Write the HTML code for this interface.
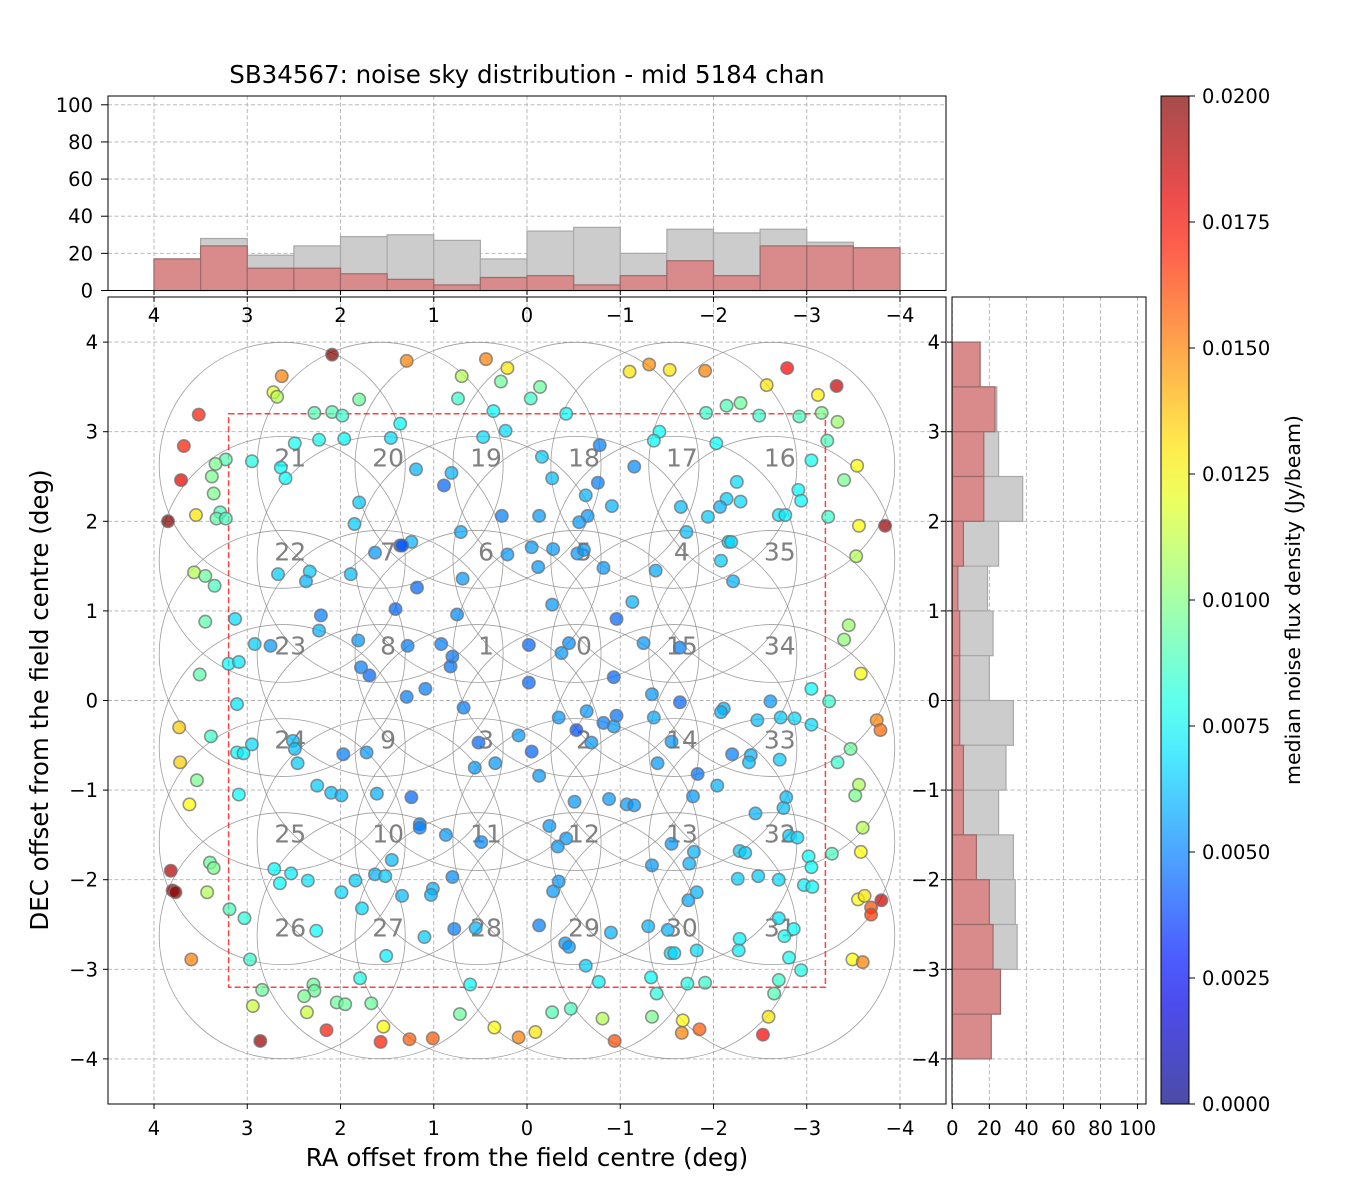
<!DOCTYPE html>
<html><head><meta charset="utf-8"><style>
html,body{margin:0;padding:0;background:#fff;}
svg{display:block;font-family:"DejaVu Sans","Liberation Sans",sans-serif;}
</style></head><body>
<svg id="fig" width="1350" height="1200" viewBox="0 0 1350 1200" xmlns="http://www.w3.org/2000/svg">
<defs>
<clipPath id="mainclip"><rect x="108" y="297" width="838" height="807"/></clipPath>
<linearGradient id="jetgrad" x1="0" y1="1" x2="0" y2="0"></linearGradient>
</defs>
<text x="527" y="83" font-size="24.5" text-anchor="middle">SB34567: noise sky distribution - mid 5184 chan</text>
<text x="527" y="1166" font-size="24.5" text-anchor="middle">RA offset from the field centre (deg)</text>
<text x="0" y="0" font-size="24.5" text-anchor="middle" transform="translate(48,700) rotate(-90)">DEC offset from the field centre (deg)</text>
<text x="0" y="0" font-size="20.5" text-anchor="middle" transform="translate(1300,600) rotate(-90)">median noise flux density (Jy/beam)</text>
<g id="layer"></g>
</svg>
<script>
// ---- data ----
const pointRA = [2.09,1.29,2.63,2.72,2.68,1.80,0.44,0.21,0.70,0.28,0.74,3.52,2.28,2.09,1.98,1.36,0.36,0.23,0.47,1.46,1.96,2.23,2.49,3.68,2.95,3.23,3.34,3.38,3.71,2.64,2.59,3.36,1.19,0.81,0.89,1.80,0.27,3.85,3.55,3.29,3.33,3.23,1.85,0.71,0.21,1.24,1.36,1.34,1.63,3.57,3.45,3.35,2.67,2.33,2.37,1.89,0.69,1.18,1.41,0.75,2.21,2.23,3.45,3.13,2.92,2.75,1.81,1.28,0.92,0.80,0.82,1.78,1.69,3.20,3.09,3.51,1.09,1.29,
-0.14,-0.04,-0.42,-1.10,-1.31,-1.53,-1.91,-2.79,-2.57,-3.32,-3.12,-2.14,-2.29,-1.92,-2.49,-2.92,-3.16,-3.33,-3.22,-1.42,-1.36,-2.03,-0.78,-0.16,-1.15,-3.05,-3.54,-3.40,-0.27,-0.76,-0.63,-2.25,-2.91,-2.94,-2.14,-2.29,-2.07,-0.91,-1.65,-0.65,-0.13,-0.56,-1.94,-2.70,-2.77,-3.23,-3.56,-3.84,-1.71,-2.16,-2.19,-0.05,-0.28,-0.54,-0.61,-2.08,-3.53,-0.12,-0.82,-1.38,-2.21,-0.27,-1.13,-0.96,-3.45,-3.40,-0.02,-0.45,-0.37,-1.25,-1.64,-3.58,-0.93,-0.02,-3.05,-1.34,
3.11,3.73,3.39,3.72,3.54,3.62,3.11,3.04,2.95,2.51,2.49,2.46,1.97,1.72,0.68,0.52,0.09,0.56,0.34,3.09,2.25,2.10,1.99,1.61,1.24,1.15,1.15,0.87,0.49,3.82,3.80,3.77,3.40,3.36,3.43,3.19,3.03,2.71,2.53,2.65,2.35,1.99,1.84,1.63,1.52,1.45,1.34,1.01,1.03,0.80,1.77,2.26,1.10,0.78,0.55,1.51,3.60,2.97,1.79,0.61,2.84,2.29,2.28,2.39,2.04,1.95,1.67,2.94,2.36,0.72,1.54,0.35,2.15,1.57,1.26,1.01,2.86,0.09,
-3.24,-2.61,-1.64,-2.11,-2.08,-0.34,-0.64,-0.82,-0.96,-0.93,-0.53,-0.69,-1.36,-2.47,-2.72,-2.87,-3.05,-3.75,-3.79,-1.55,-0.05,-2.20,-2.40,-2.38,-2.71,-3.47,-3.33,-1.40,-0.13,-1.83,-2.04,-1.78,-2.78,-2.75,-3.56,-3.52,-0.51,-0.88,-1.07,-1.15,-2.45,-3.60,-0.24,-0.42,-0.33,-1.55,-1.79,-1.74,-1.34,-2.28,-2.34,-2.81,-2.90,-3.02,-3.05,-3.27,-3.58,-2.26,-2.48,-2.70,-2.97,-3.06,-0.34,-0.28,-1.82,-1.73,-3.55,-3.62,-3.80,-3.69,-3.69,-0.13,-0.90,-0.41,-0.45,-1.30,-1.51,-2.70,-2.86,-2.76,-2.28,-2.27,-1.54,-1.58,-1.82,-2.81,-2.94,-0.63,-0.77,-1.33,-1.39,-1.72,-1.91,-2.70,-2.65,-3.49,-3.60,-0.27,-0.47,-0.81,-1.34,-1.67,-1.66,-1.85,-2.59,-2.53,-0.94,-0.09];
const pointDEC = [3.86,3.79,3.62,3.44,3.39,3.36,3.81,3.71,3.62,3.56,3.37,3.19,3.21,3.22,3.18,3.09,3.23,3.01,2.94,2.93,2.92,2.91,2.87,2.84,2.67,2.69,2.64,2.50,2.46,2.60,2.48,2.31,2.58,2.54,2.40,2.21,2.06,2.00,2.07,2.10,2.03,2.03,1.97,1.88,1.63,1.77,1.73,1.73,1.65,1.43,1.39,1.28,1.41,1.44,1.33,1.41,1.36,1.26,1.02,0.96,0.95,0.78,0.88,0.91,0.63,0.61,0.67,0.61,0.63,0.49,0.38,0.37,0.28,0.41,0.43,0.29,0.13,0.04,
3.50,3.37,3.20,3.67,3.75,3.69,3.68,3.71,3.52,3.51,3.41,3.29,3.32,3.21,3.18,3.17,3.21,3.11,2.90,3.00,2.90,2.87,2.85,2.72,2.61,2.68,2.62,2.46,2.48,2.43,2.29,2.44,2.35,2.23,2.25,2.22,2.16,2.17,2.16,2.06,2.06,1.99,2.05,2.07,2.07,2.05,1.95,1.95,1.88,1.77,1.77,1.71,1.69,1.64,1.68,1.56,1.61,1.49,1.48,1.45,1.33,1.07,1.10,0.91,0.84,0.68,0.62,0.64,0.53,0.64,0.59,0.30,0.26,0.20,0.13,0.07,
-0.04,-0.30,-0.40,-0.69,-0.89,-1.16,-0.58,-0.59,-0.49,-0.45,-0.54,-0.70,-0.60,-0.58,-0.08,-0.47,-0.39,-0.75,-0.70,-1.05,-0.95,-1.03,-1.06,-1.04,-1.08,-1.38,-1.42,-1.50,-1.58,-1.90,-2.12,-2.14,-1.81,-1.87,-2.14,-2.33,-2.43,-1.88,-1.93,-2.04,-2.01,-2.14,-2.01,-1.94,-1.96,-1.78,-2.18,-2.10,-2.17,-1.97,-2.32,-2.57,-2.64,-2.55,-2.54,-2.85,-2.89,-2.89,-3.10,-3.17,-3.23,-3.17,-3.24,-3.30,-3.37,-3.39,-3.38,-3.41,-3.48,-3.50,-3.64,-3.65,-3.68,-3.81,-3.78,-3.77,-3.80,-3.76,
-0.01,-0.01,-0.02,-0.09,-0.13,-0.19,-0.12,-0.25,-0.17,-0.29,-0.33,-0.47,-0.19,-0.22,-0.19,-0.20,-0.27,-0.22,-0.33,-0.46,-0.57,-0.60,-0.61,-0.69,-0.66,-0.54,-0.69,-0.70,-0.84,-0.82,-0.95,-1.07,-1.08,-1.20,-0.94,-1.06,-1.13,-1.10,-1.16,-1.17,-1.26,-1.42,-1.40,-1.54,-1.63,-1.60,-1.69,-1.82,-1.84,-1.68,-1.70,-1.51,-1.53,-1.74,-1.86,-1.71,-1.69,-1.99,-1.96,-2.00,-2.06,-2.08,-2.02,-2.13,-2.14,-2.23,-2.22,-2.18,-2.23,-2.31,-2.39,-2.51,-2.59,-2.71,-2.75,-2.52,-2.56,-2.43,-2.55,-2.63,-2.66,-2.79,-2.82,-2.82,-2.79,-2.87,-3.01,-2.96,-3.14,-3.09,-3.27,-3.16,-3.15,-3.12,-3.27,-2.89,-2.92,-3.48,-3.44,-3.55,-3.53,-3.57,-3.71,-3.67,-3.53,-3.73,-3.80,-3.70];
const pointNoise = [.02,.015,.015,.012,.011,.0095,.015,.013,.011,.0095,.0085,.017,.009,.009,.0085,.0075,.0075,.0068,.0068,.0068,.0075,.0078,.0078,.017,.008,.009,.0098,.0098,.018,.0075,.0075,.0098,.006,.006,.0045,.0065,.005,.02,.013,.0088,.0092,.0088,.0065,.0058,.0055,.006,.0045,.004,.0055,.011,.0095,.0088,.0065,.0065,.006,.0062,.0055,.0045,.0045,.0052,.005,.006,.0092,.0068,.0065,.0055,.0055,.005,.005,.0048,.0048,.005,.0045,.0075,.007,.0092,.005,.005,
.0095,.0085,.0075,.013,.0148,.013,.015,.0175,.013,.0185,.0128,.009,.0095,.0085,.0085,.0088,.0098,.0105,.0088,.0075,.0075,.0075,.005,.0065,.0052,.0078,.0125,.0098,.0062,.005,.006,.0068,.0075,.0075,.0065,.0068,.006,.006,.0062,.0055,.0055,.0055,.0065,.007,.0072,.0085,.0125,.0195,.0062,.0065,.0068,.0055,.0055,.0055,.0055,.0065,.011,.0055,.0055,.0058,.006,.0055,.006,.0045,.0105,.0102,.0045,.0052,.0055,.0055,.005,.0125,.0045,.0045,.0075,.0055,
.007,.0135,.0085,.0135,.0098,.0125,.0075,.0072,.0068,.0062,.0062,.0065,.005,.0055,.005,.0045,.0055,.0055,.0055,.0075,.0065,.0062,.006,.006,.0045,.0052,.005,.0055,.0052,.019,.019,.02,.0095,.0098,.011,.0088,.0082,.0075,.0072,.0075,.007,.0068,.0065,.006,.0065,.0062,.0062,.006,.006,.0052,.0068,.0075,.0065,.005,.006,.0072,.015,.0085,.008,.0075,.0095,.0095,.0095,.0098,.0095,.0095,.0095,.0115,.0115,.0095,.0125,.0125,.017,.017,.0158,.0158,.0195,.015,
.0085,.0055,.0045,.006,.006,.0055,.0055,.005,.0048,.0055,.004,.0055,.0058,.0062,.0065,.0068,.0068,.015,.0155,.0055,.0045,.005,.006,.0062,.0065,.0095,.0085,.0055,.0055,.0048,.006,.0055,.0062,.0062,.0108,.0098,.0055,.0055,.0055,.0055,.006,.011,.0055,.0055,.0055,.0055,.006,.006,.0055,.0065,.0065,.0065,.0068,.0075,.0075,.0088,.0125,.0065,.0065,.0068,.0072,.0075,.0055,.0055,.006,.0058,.0125,.013,.0185,.016,.0165,.005,.006,.0055,.0055,.006,.006,.007,.0075,.0078,.0072,.0072,.0068,.0068,.0068,.0078,.008,.0065,.0072,.0075,.0082,.008,.0085,.0085,.009,.0125,.015,.009,.0088,.011,.0098,.0125,.015,.0158,.013,.0175,.016,.013];
const beamLabels = [21,20,19,18,17,16, 22,7,6,5,4,35, 23,8,1,0,15,34, 24,9,3,2,14,33, 25,10,11,12,13,32, 26,27,28,29,30,31];
const beamOffsets = [2.625,1.575,0.525,-0.525,-1.575,-2.625];
const binEdges = [4,3.5,3,2.5,2,1.5,1,0.5,0,-0.5,-1,-1.5,-2,-2.5,-3,-3.5,-4];
const raCountsAll = [17,28,19,24,29,30,27,17,32,34,20,33,31,33,26,23];
const raCountsOuter = [17,24,12,12,9,6,3,7,8,3,8,16,8,24,24,23];
const decCountsAll = [15,24,25,38,25,19,22,20,33,29,25,33,34,35,26,21];
const decCountsOuter = [15,23,17,17,6,3,4,4,4,6,6,13,20,22,26,21];
const mainTicks = [4,3,2,1,0,-1,-2,-3,-4];
const countTicks = [0,20,40,60,80,100];
const cbarTicks = [0,0.0025,0.005,0.0075,0.01,0.0125,0.015,0.0175,0.02];

// ---- scales ----
const sx = ra => 527 - ra*93.25;
const sy = d => 700.5 - d*89.6;
const hy = v => 290.5 - v*1.857;
const hx = v => 952.3 + v*1.852;
const cby = v => 1104 - v/0.02*1008;
const NS = 'http://www.w3.org/2000/svg';
const layer = document.getElementById('layer');
function mk(tag, attrs, parent){ const e=document.createElementNS(NS,tag); for(const k in attrs) e.setAttribute(k,attrs[k]); (parent||layer).appendChild(e); return e; }
function jet(t){ t=Math.max(0,Math.min(1,t)); const c=x=>Math.round(255*Math.max(0,Math.min(1,x)));
  return `rgb(${c(1.5-Math.abs(4*t-3))},${c(1.5-Math.abs(4*t-2))},${c(1.5-Math.abs(4*t-1))})`; }
const mn = v => String(v).replace('-','\u2212');
const grid = {stroke:'#b0b0b0','stroke-width':0.9,'stroke-dasharray':'4,2.5'};
const FS = 19.5;
const DY = 7;

// ===== main axes =====
const gMain = mk('g',{});


mainTicks.forEach(t=>{
  const gx = mk('line',Object.assign({x1:sx(t),x2:sx(t),y1:297,y2:1104},grid),gMain);
  
  
  const gy = mk('line',Object.assign({x1:108,x2:946,y1:sy(t),y2:sy(t)},grid),gMain);
  
  
});
const gClip = mk('g',{'clip-path':'url(#mainclip)'},gMain);


beamOffsets.forEach((dv,ri)=>beamOffsets.forEach((rv,ci)=>{
  const c = mk('circle',{cx:sx(rv),cy:sy(dv),r:123,fill:'none',stroke:'#8c8c8c','stroke-width':0.8,'stroke-opacity':0.85},gClip);
  
  
}));
beamOffsets.forEach((dv,ri)=>beamOffsets.forEach((rv,ci)=>{
  const t = mk('text',{x:sx(rv)+8,y:sy(dv)+1,'font-size':25,'text-anchor':'middle',fill:'#808080'},gClip);
  t.textContent = beamLabels[ri*6+ci];
  
  
}));
const sq = mk('rect',{x:sx(3.2),y:sy(3.2),width:sx(-3.2)-sx(3.2),height:sy(-3.2)-sy(3.2),fill:'none',stroke:'#ff2020','stroke-opacity':0.85,'stroke-width':1.5,'stroke-dasharray':'6,3'},gClip);


pointRA.forEach((ra,i)=>{
  const p = mk('circle',{cx:sx(ra),cy:sy(pointDEC[i]),r:6.2,fill:jet(pointNoise[i]/0.02),'fill-opacity':0.72,stroke:'#707070','stroke-opacity':0.75,'stroke-width':1.6},gClip);
  
  
});
const frame = mk('rect',{x:108,y:297,width:838,height:807,fill:'none',stroke:'#000','stroke-width':1},gMain);


mainTicks.forEach(t=>{
  mk('line',{x1:sx(t),x2:sx(t),y1:1104,y2:1109,stroke:'#000'},gMain);
  mk('line',{x1:103,x2:108,y1:sy(t),y2:sy(t),stroke:'#000'},gMain);
  mk('line',{x1:sx(t),x2:sx(t),y1:297,y2:302,stroke:'#000'},gMain);
  mk('line',{x1:941,x2:946,y1:sy(t),y2:sy(t),stroke:'#000'},gMain);
  const bl = mk('text',{x:sx(t),y:1135,'font-size':FS,'text-anchor':'middle'},gMain);
  bl.textContent = mn(t);
  
  
  const tl = mk('text',{x:sx(t),y:322,'font-size':FS,'text-anchor':'middle'},gMain);
  tl.textContent = mn(t);
  
  
  const ll = mk('text',{x:98,y:sy(t)+DY,'font-size':FS,'text-anchor':'end'},gMain);
  ll.textContent = mn(t);
  
  
  const rl = mk('text',{x:940,y:sy(t)+DY,'font-size':FS,'text-anchor':'end'},gMain);
  rl.textContent = mn(t);
  
  
});

// ===== top histogram =====
const gTop = mk('g',{});


mainTicks.forEach(t=>{ mk('line',Object.assign({x1:sx(t),x2:sx(t),y1:96,y2:290.5},grid),gTop); });
countTicks.forEach(v=>{ mk('line',Object.assign({x1:108,x2:946,y1:hy(v),y2:hy(v)},grid),gTop); });
raCountsAll.forEach((v,i)=>{
  const x0=sx(binEdges[i]), x1=sx(binEdges[i+1]);
  const b = mk('rect',{x:x0,y:hy(v),width:x1-x0,height:290.5-hy(v),fill:'#cccccc',stroke:'#a8a8a8','stroke-width':1.2},gTop);
  
  
});
raCountsOuter.forEach((v,i)=>{
  const x0=sx(binEdges[i]), x1=sx(binEdges[i+1]);
  const b = mk('rect',{x:x0,y:hy(v),width:x1-x0,height:290.5-hy(v),fill:'#d98b8b',stroke:'#9a6a6a','stroke-width':1.2},gTop);
  
  
});
mk('rect',{x:108,y:96,width:838,height:194.5,fill:'none',stroke:'#000'},gTop);
countTicks.forEach(v=>{
  mk('line',{x1:101,x2:108,y1:hy(v),y2:hy(v),stroke:'#000'},gTop);
  const l = mk('text',{x:93,y:hy(v)+DY,'font-size':FS,'text-anchor':'end'},gTop);
  l.textContent = v;
  
  
});
mainTicks.forEach(t=>{ mk('line',{x1:sx(t),x2:sx(t),y1:290.5,y2:295,stroke:'#000'},gTop); });

// ===== right histogram =====
const gR = mk('g',{});


countTicks.forEach(v=>{ mk('line',Object.assign({x1:hx(v),x2:hx(v),y1:297,y2:1104},grid),gR); });
mainTicks.forEach(t=>{ mk('line',Object.assign({x1:952,x2:1146,y1:sy(t),y2:sy(t)},grid),gR); });
decCountsAll.forEach((v,i)=>{
  const y0=sy(binEdges[i]), y1=sy(binEdges[i+1]);
  const b = mk('rect',{x:952.3,y:y0,width:hx(v)-952.3,height:y1-y0,fill:'#cccccc',stroke:'#a8a8a8','stroke-width':1.2},gR);
  
  
});
decCountsOuter.forEach((v,i)=>{
  const y0=sy(binEdges[i]), y1=sy(binEdges[i+1]);
  const b = mk('rect',{x:952.3,y:y0,width:hx(v)-952.3,height:y1-y0,fill:'#d98b8b',stroke:'#9a6a6a','stroke-width':1.2},gR);
  
  
});
mk('rect',{x:952,y:297,width:194,height:807,fill:'none',stroke:'#000'},gR);
countTicks.forEach(v=>{
  mk('line',{x1:hx(v),x2:hx(v),y1:1104,y2:1109,stroke:'#000'},gR);
  const l = mk('text',{x:hx(v),y:1135,'font-size':FS,'text-anchor':'middle'},gR);
  l.textContent = v;
  
  
});
mainTicks.forEach(t=>{ mk('line',{x1:947,x2:952,y1:sy(t),y2:sy(t),stroke:'#000'},gR); });

// ===== colorbar =====
const grad = document.getElementById('jetgrad');
for(let i=0;i<=20;i++){ const s=document.createElementNS(NS,'stop'); s.setAttribute('offset',i/20); s.setAttribute('stop-color',jet(i/20)); s.setAttribute('stop-opacity',0.7); grad.appendChild(s); }
const gC = mk('g',{});


const cb = mk('rect',{x:1161,y:96,width:28,height:1008,fill:'url(#jetgrad)',stroke:'#000'},gC);


cbarTicks.forEach(v=>{
  mk('line',{x1:1189,x2:1195,y1:cby(v),y2:cby(v),stroke:'#000'},gC);
  const l = mk('text',{x:1202,y:cby(v)+DY,'font-size':FS},gC);
  l.textContent = v.toFixed(4);
  
  
});
</script>
</body></html>
